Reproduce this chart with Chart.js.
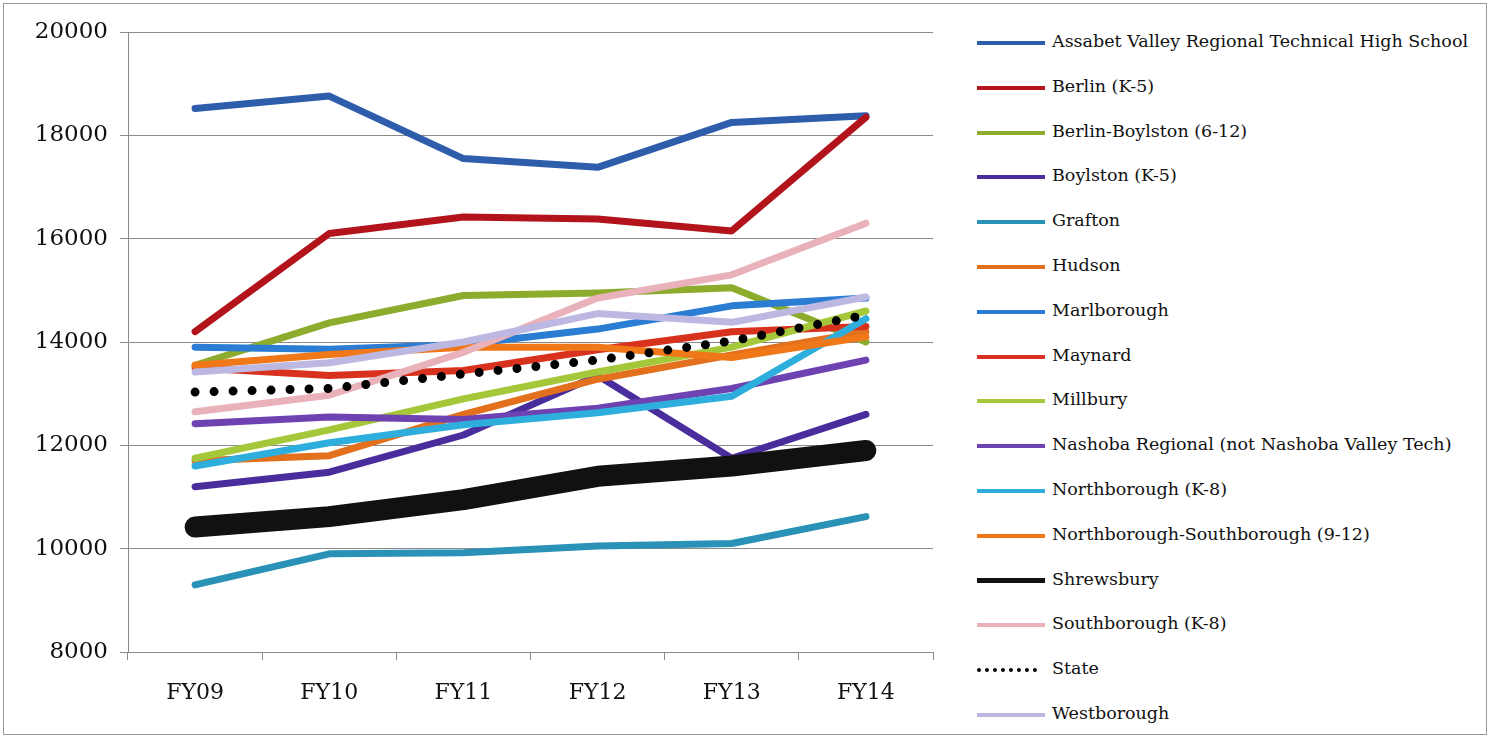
<!DOCTYPE html>
<html>
<head>
<meta charset="utf-8">
<script src="https://cdn.jsdelivr.net/npm/chart.js@4/dist/chart.umd.min.js"></script>
<style>
  html, body { margin: 0; padding: 0; background: #fff; }
  body { width: 1491px; height: 738px; position: relative; overflow: hidden; }
  #frame { position: absolute; left: 3px; top: 3px; width: 1482px; height: 730px; border: 1px solid #9a9a9a; }
  #wrap { position: absolute; left: 0; top: 0; width: 960px; height: 738px; }
  #legend { position: absolute; left: 977px; top: 0; font-family: "DejaVu Serif", serif; font-size: 17.5px; color: #111; }
  .item { position: absolute; left: 0; height: 20px; white-space: nowrap; }
  .swatch { position: absolute; left: 0; width: 68px; }
  .label { position: absolute; left: 75px; top: -12px; }
</style>
</head>
<body>
<div id="frame"></div>
<div id="wrap"><canvas id="chart" width="960" height="738"></canvas></div>
<div id="legend"></div>
<script>
const years = ['FY09', 'FY10', 'FY11', 'FY12', 'FY13', 'FY14'];

const assabet = [18520, 18760, 17550, 17380, 18250, 18380];
const berlin = [14200, 16100, 16420, 16380, 16150, 18350];
const berlinBoylston = [13550, 14370, 14900, 14950, 15050, 14000];
const boylston = [11200, 11480, 12200, 13350, 11750, 12600];
const grafton = [9300, 9900, 9920, 10050, 10100, 10620];
const hudson = [11700, 11800, 12600, 13280, 13750, 14200];
const marlborough = [13900, 13860, 13950, 14250, 14700, 14850];
const maynard = [13500, 13350, 13450, 13850, 14200, 14300];
const millbury = [11750, 12300, 12900, 13420, 13900, 14600];
const nashoba = [12420, 12550, 12500, 12720, 13100, 13650];
const northborough = [11600, 12050, 12400, 12630, 12950, 14450];
const nsRegional = [13550, 13760, 13900, 13900, 13700, 14100];
const shrewsbury = [10420, 10620, 10950, 11400, 11600, 11900];
const southborough = [12650, 12970, 13800, 14850, 15300, 16300];
const state = [13030, 13100, 13380, 13650, 14020, 14520];
const westborough = [13420, 13600, 14000, 14550, 14380, 14870];

const yTicks = [8000, 10000, 12000, 14000, 16000, 18000, 20000];

const series = [
  { name: 'Assabet Valley Regional Technical High School', data: assabet, color: '#2d5dab' },
  { name: 'Berlin (K-5)', data: berlin, color: '#b3141c' },
  { name: 'Berlin-Boylston (6-12)', data: berlinBoylston, color: '#8dab2c' },
  { name: 'Boylston (K-5)', data: boylston, color: '#4a2d9c' },
  { name: 'Grafton', data: grafton, color: '#2a92b6' },
  { name: 'Hudson', data: hudson, color: '#e2701c' },
  { name: 'Marlborough', data: marlborough, color: '#2a7dd2' },
  { name: 'Maynard', data: maynard, color: '#d8321e' },
  { name: 'Millbury', data: millbury, color: '#a4c83a' },
  { name: 'Nashoba Regional (not Nashoba Valley Tech)', data: nashoba, color: '#6f42b2' },
  { name: 'Northborough (K-8)', data: northborough, color: '#2eaedc' },
  { name: 'Northborough-Southborough (9-12)', data: nsRegional, color: '#f07818' },
  { name: 'Shrewsbury', data: shrewsbury, color: '#111111', width: 21, legendWidth: 5 },
  { name: 'Southborough (K-8)', data: southborough, color: '#e9b2bb' },
  { name: 'State', data: state, color: '#000000', width: 9, dash: [0, 19], dotted: true },
  { name: 'Westborough', data: westborough, color: '#bcb8e2' }
];

const datasets = series.map((s, i) => ({
  label: s.name,
  data: s.data,
  borderColor: s.color,
  backgroundColor: s.color,
  borderWidth: s.width || 7,
  borderDash: s.dash || [],
  borderCapStyle: 'round',
  borderJoinStyle: 'round',
  pointRadius: 0,
  tension: 0,
  order: series.length - i // later series drawn on top, like Excel
}));

new Chart(document.getElementById('chart'), {
  type: 'line',
  data: { labels: years, datasets: datasets },
  options: {
    responsive: false,
    animation: false,
    layout: { padding: { left: 0, right: 27, top: 32, bottom: 0 } },
    plugins: { legend: { display: false }, tooltip: { enabled: false } },
    scales: {
      x: {
        offset: true,
        grid: { display: true, drawOnChartArea: false, offset: true, color: '#8a8a8a', tickLength: 8 },
        border: { display: true, color: '#8a8a8a' },
        ticks: { color: '#111', padding: 20, font: { family: 'DejaVu Serif', size: 22 } },
        afterFit: (scale) => { scale.height = 86; }
      },
      y: {
        min: 8000,
        max: 20000,
        afterBuildTicks: (scale) => { scale.ticks = yTicks.map(v => ({ value: v })); },
        grid: { color: '#8a8a8a', tickLength: 8 },
        border: { display: true, color: '#8a8a8a' },
        ticks: { color: '#111', padding: 12, font: { family: 'DejaVu Serif', size: 23 }, callback: (v) => String(v) },
        afterFit: (scale) => { scale.width = 128; }
      }
    }
  }
});

// legend on the right
const legend = document.getElementById('legend');
series.forEach((s, i) => {
  const item = document.createElement('div');
  item.className = 'item';
  item.style.top = (43 + i * 44.8) + 'px';
  const sw = document.createElement('div');
  sw.className = 'swatch';
  if (s.dotted) {
    sw.style.borderTop = '4px dotted ' + s.color;
    sw.style.width = '60px';
    sw.style.top = '-2px';
  } else {
    const w = s.legendWidth || 4;
    sw.style.borderTop = w + 'px solid ' + s.color;
    sw.style.top = (-w / 2) + 'px';
  }
  const lab = document.createElement('div');
  lab.className = 'label';
  lab.textContent = s.name;
  item.appendChild(sw);
  item.appendChild(lab);
  legend.appendChild(item);
});
</script>
</body>
</html>
